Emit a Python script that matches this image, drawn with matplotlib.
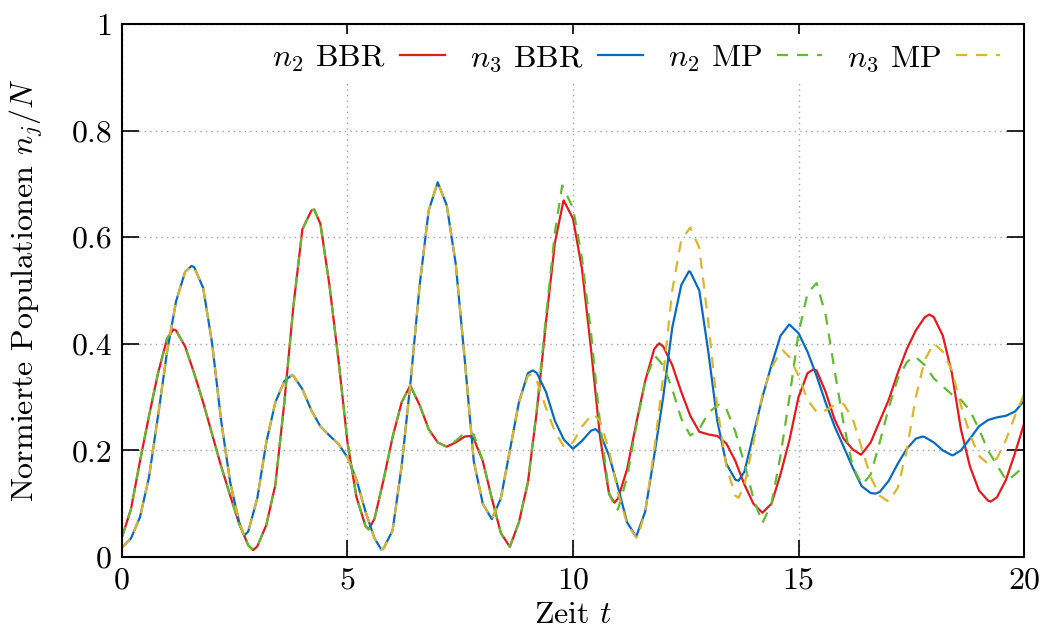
import numpy as np
import matplotlib
matplotlib.use("Agg")
import matplotlib.pyplot as plt
from matplotlib.ticker import MultipleLocator, FuncFormatter

plt.rcParams['font.family'] = 'serif'
plt.rcParams['font.serif'] = ['cmr10']
plt.rcParams['mathtext.fontset'] = 'cm'
plt.rcParams['axes.formatter.use_mathtext'] = True

# time grid, step 0.2
t = np.linspace(0, 20, 101)

n2_bbr = [0.037, 0.09, 0.18, 0.265, 0.345, 0.41, 0.425, 0.395, 0.345, 0.29,
          0.23, 0.17, 0.115, 0.062, 0.022, 0.02, 0.06, 0.135, 0.29, 0.47,
          0.615, 0.65, 0.625, 0.51, 0.37, 0.215, 0.112, 0.058, 0.072, 0.145,
          0.225, 0.29, 0.32, 0.285, 0.24, 0.215, 0.207, 0.215, 0.226, 0.222,
          0.18, 0.11, 0.045, 0.019, 0.065, 0.14, 0.275, 0.44, 0.59, 0.668,
          0.635, 0.54, 0.39, 0.225, 0.118, 0.11, 0.165, 0.25, 0.33, 0.39,
          0.395, 0.36, 0.31, 0.265, 0.235, 0.23, 0.227, 0.213, 0.18, 0.136,
          0.1, 0.083, 0.1, 0.155, 0.22, 0.3, 0.345, 0.35, 0.31, 0.258,
          0.222, 0.202, 0.193, 0.215, 0.255, 0.295, 0.345, 0.39, 0.425, 0.45,
          0.45, 0.415, 0.345, 0.24, 0.17, 0.125, 0.106, 0.112, 0.145, 0.195,
          0.25]

n3_bbr = [0.018, 0.035, 0.075, 0.15, 0.265, 0.385, 0.48, 0.535, 0.544, 0.505,
          0.40, 0.255, 0.14, 0.065, 0.048, 0.11, 0.215, 0.29, 0.33, 0.34,
          0.315, 0.275, 0.245, 0.228, 0.212, 0.187, 0.145, 0.085, 0.035, 0.016,
          0.05, 0.17, 0.33, 0.51, 0.65, 0.703, 0.66, 0.55, 0.37, 0.18,
          0.1, 0.071, 0.11, 0.2, 0.29, 0.345, 0.345, 0.31, 0.255, 0.22,
          0.203, 0.218, 0.237, 0.232, 0.19, 0.13, 0.065, 0.038, 0.085, 0.19,
          0.30, 0.43, 0.51, 0.535, 0.50, 0.385, 0.255, 0.175, 0.145, 0.16,
          0.23, 0.3, 0.36, 0.415, 0.436, 0.42, 0.385, 0.34, 0.29, 0.245,
          0.207, 0.168, 0.133, 0.12, 0.122, 0.143, 0.175, 0.203, 0.222, 0.225,
          0.215, 0.2, 0.191, 0.2, 0.222, 0.245, 0.257, 0.262, 0.265, 0.273,
          0.293]

n2_mp = [0.037, 0.09, 0.18, 0.265, 0.345, 0.41, 0.425, 0.395, 0.345, 0.29,
         0.23, 0.17, 0.115, 0.062, 0.022, 0.02, 0.06, 0.135, 0.29, 0.47,
         0.615, 0.65, 0.625, 0.51, 0.37, 0.215, 0.112, 0.058, 0.072, 0.145,
         0.225, 0.29, 0.32, 0.285, 0.24, 0.215, 0.207, 0.218, 0.233, 0.23,
         0.18, 0.11, 0.045, 0.019, 0.065, 0.14, 0.28, 0.45, 0.61, 0.69,
         0.655, 0.56, 0.42, 0.25, 0.12, 0.09, 0.15, 0.245, 0.33, 0.375,
         0.36, 0.315, 0.26, 0.228, 0.24, 0.27, 0.285, 0.278, 0.235, 0.175,
         0.11, 0.064, 0.1, 0.19, 0.3, 0.42, 0.495, 0.514, 0.455, 0.35,
         0.25, 0.17, 0.137, 0.155, 0.215, 0.28, 0.335, 0.365, 0.375, 0.36,
         0.335, 0.32, 0.305, 0.295, 0.275, 0.24, 0.2, 0.172, 0.145, 0.155,
         0.17]

n3_mp = [0.018, 0.035, 0.075, 0.15, 0.265, 0.385, 0.48, 0.535, 0.544, 0.505,
         0.40, 0.255, 0.14, 0.065, 0.048, 0.11, 0.215, 0.29, 0.33, 0.34,
         0.315, 0.275, 0.245, 0.228, 0.212, 0.187, 0.145, 0.085, 0.035, 0.016,
         0.05, 0.17, 0.33, 0.51, 0.65, 0.703, 0.66, 0.55, 0.37, 0.18,
         0.1, 0.071, 0.11, 0.2, 0.29, 0.34, 0.33, 0.28, 0.235, 0.207,
         0.215, 0.245, 0.265, 0.255, 0.2, 0.12, 0.062, 0.037, 0.085, 0.2,
         0.34, 0.5, 0.595, 0.618, 0.58, 0.44, 0.28, 0.17, 0.115, 0.135,
         0.215, 0.305, 0.355, 0.385, 0.375, 0.34, 0.295, 0.272, 0.275, 0.285,
         0.287, 0.26, 0.205, 0.15, 0.115, 0.104, 0.13, 0.2, 0.3, 0.37,
         0.401, 0.385, 0.35, 0.285, 0.23, 0.19, 0.175, 0.185, 0.22, 0.265,
         0.305]

n2_bbr_ext_t = [1.14, 2.91, 4.26, 5.47, 6.38, 7.71, 9.79, 10.92, 11.91, 15.33, 16.38, 17.9, 19.26]
n2_bbr_ext_v = [0.427, 0.013, 0.652, 0.052, 0.32, 0.227, 0.669, 0.102, 0.401, 0.352, 0.192, 0.455, 0.104]

n3_bbr_ext_t = [1.54, 2.71, 3.76, 5.75, 9.11, 10.5, 12.57, 13.67, 14.79, 16.71, 17.75, 18.43]
n3_bbr_ext_v = [0.546, 0.04, 0.341, 0.014, 0.35, 0.24, 0.536, 0.143, 0.436, 0.119, 0.226, 0.191]

n2_mp_ext_t = [1.14, 2.91, 4.26, 5.47, 6.38, 7.66, 9.76, 10.96, 11.82, 13.28, 16.42, 17.53, 19.62]
n2_mp_ext_v = [0.427, 0.013, 0.652, 0.052, 0.32, 0.234, 0.697, 0.088, 0.377, 0.287, 0.136, 0.376, 0.143]

n3_mp_ext_t = [1.54, 2.71, 3.76, 5.75, 9.08, 9.85, 10.46, 11.43, 13.67, 14.65, 15.45, 15.95]
n3_mp_ext_v = [0.546, 0.04, 0.341, 0.014, 0.343, 0.205, 0.268, 0.036, 0.111, 0.388, 0.27, 0.289]


def merged(vals, ext_t, ext_v):
    tt = np.concatenate([t, ext_t])
    vv = np.concatenate([vals, ext_v])
    order = np.argsort(tt)
    return tt[order], vv[order]


labels = [r'$n_2$ BBR', r'$n_3$ BBR', r'$n_2$ MP', r'$n_3$ MP']
colors = ['#e41a1c', '#0a6bbd', '#63b930', '#dcb52c']

fig = plt.figure(figsize=(10.46, 6.35), dpi=100)
ax = fig.add_axes([0.1166, 0.1228, 0.8624, 0.8394])

x, y = merged(n2_bbr, n2_bbr_ext_t, n2_bbr_ext_v)
ax.plot(x, y, color=colors[0], lw=1.6, label=labels[0])
x, y = merged(n3_bbr, n3_bbr_ext_t, n3_bbr_ext_v)
ax.plot(x, y, color=colors[1], lw=1.6, label=labels[1])
x, y = merged(n2_mp, n2_mp_ext_t, n2_mp_ext_v)
ax.plot(x, y, color=colors[2], lw=1.6, ls=(0, (5, 4)), label=labels[2])
x, y = merged(n3_mp, n3_mp_ext_t, n3_mp_ext_v)
ax.plot(x, y, color=colors[3], lw=1.6, ls=(0, (5, 4)), label=labels[3])

ax.set_xlim(0, 20)
ax.set_ylim(0, 1)
ax.xaxis.set_major_locator(MultipleLocator(5))
ax.yaxis.set_major_locator(MultipleLocator(0.2))
ax.yaxis.set_major_formatter(FuncFormatter(lambda v, p: '%g' % round(v, 2)))
ax.xaxis.set_major_formatter(FuncFormatter(lambda v, p: '%g' % v))
ax.tick_params(direction='in', length=12, width=1.2, top=True, right=True,
               labelsize=23, pad=7)
for s in ax.spines.values():
    s.set_linewidth(1.5)
ax.grid(True, color='#a0a0a0', ls=(0, (1, 3)), lw=1)

ax.set_xlabel(r'Zeit $t$', fontsize=23, labelpad=5)
ax.set_ylabel(r'Normierte Populationen $n_j/N$', fontsize=23)
ax.yaxis.set_label_coords(-0.085, 0.5)

leg = ax.legend(loc='upper right', bbox_to_anchor=(0.995, 1.0), ncol=4,
                markerfirst=False, frameon=True, fancybox=False,
                edgecolor='none', facecolor='white', framealpha=1,
                fontsize=23, handlelength=1.4, handletextpad=0.45,
                columnspacing=0.8, borderpad=0.3, borderaxespad=0.3)

fig.savefig('out.png', dpi=100)
